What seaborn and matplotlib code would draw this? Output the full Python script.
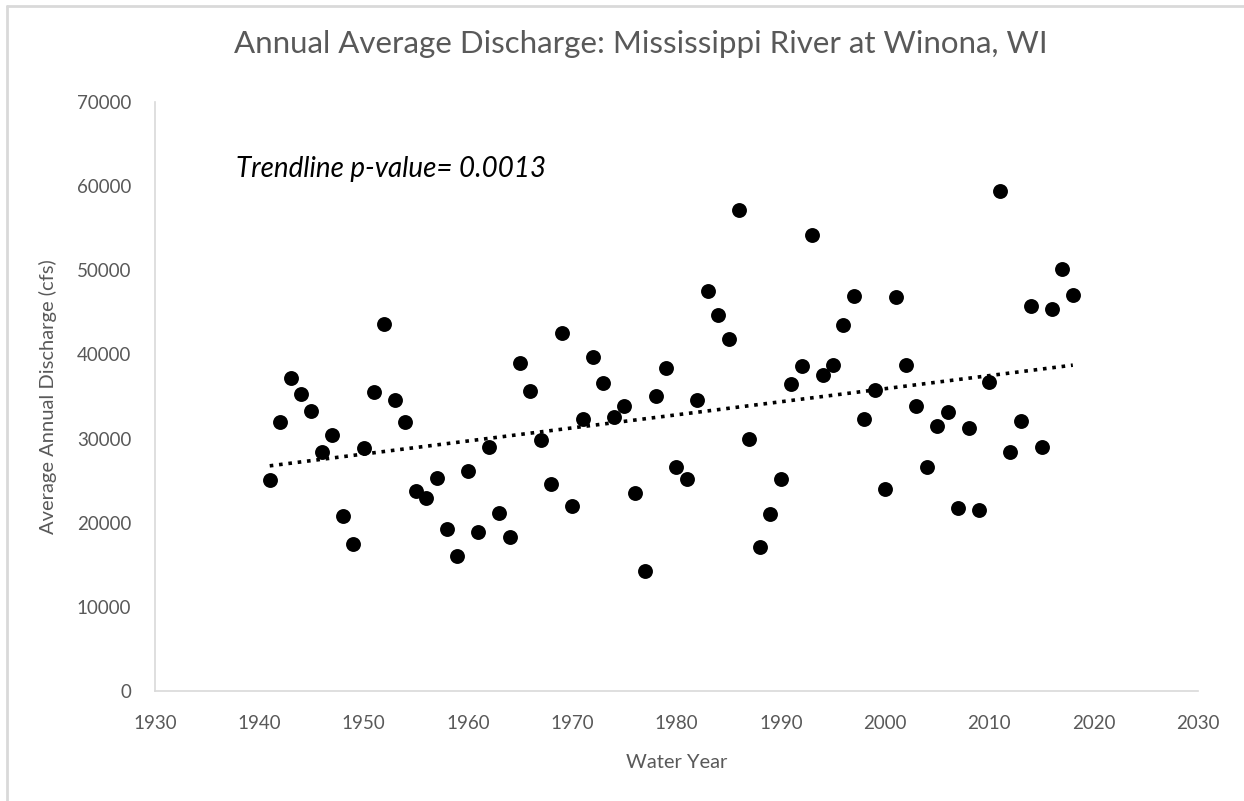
"""Annual average discharge scatter with a dotted linear trendline."""
import matplotlib
matplotlib.use("Agg")
import matplotlib.pyplot as plt
from matplotlib.lines import Line2D
import numpy as np
import pandas as pd
import seaborn as sns

years = list(range(1941, 2019))
discharge = [
    25100, 32000, 37250, 35250, 33300, 28400, 30400, 20800, 17500, 28900,  # 1941-1950
    35550, 43650, 34600, 32000, 23800, 22950, 25350, 19250, 16100, 26200,  # 1951-1960
    18950, 29000, 21200, 18250, 39000, 35700, 29800, 24600, 42550, 21950,  # 1961-1970
    32350, 39700, 36600, 32600, 33850, 23500, 14300, 35050, 38400, 26600,  # 1971-1980
    25200, 34600, 47500, 44650, 41850, 57200, 29900, 17150, 21050, 25200,  # 1981-1990
    36450, 38650, 54200, 37600, 38700, 43550, 46950, 32300, 35750, 24050,  # 1991-2000
    46800, 38700, 33850, 26650, 31450, 33150, 21800, 31200, 21500, 36750,  # 2001-2010
    59450, 28350, 32050, 45800, 29050, 45400, 50100, 47100,                # 2011-2018
]
x_ticks = list(range(1930, 2031, 10))
y_ticks = list(range(0, 70001, 10000))

df = pd.DataFrame({"year": years, "discharge": discharge})

sns.set_theme(style="white")
plt.rcParams["font.family"] = ["Lato", "DejaVu Sans"]
GRAY = "#595959"

fig = plt.figure(figsize=(12.44, 8.01), dpi=100)
ax = fig.add_axes([0.1246, 0.1373, 0.8384, 0.7354])

sns.scatterplot(data=df, x="year", y="discharge", ax=ax, color="black",
                s=115, edgecolor="black", linewidth=0, zorder=3)
sns.regplot(data=df, x="year", y="discharge", ax=ax, scatter=False, ci=None,
            color="black", line_kws={"linestyle": (0, (1, 1.6)), "linewidth": 2.6})

ax.set_xlim(1930, 2030)
ax.set_ylim(0, 70000)
ax.set_xticks(x_ticks)
ax.set_yticks(y_ticks)
ax.tick_params(axis="both", length=0, labelsize=13.5, labelcolor=GRAY)
ax.tick_params(axis="x", pad=17)
ax.tick_params(axis="y", pad=17)
for side in ("top", "right"):
    ax.spines[side].set_visible(False)
for side in ("left", "bottom"):
    ax.spines[side].set_color("#d9d9d9")
    ax.spines[side].set_linewidth(1.2)

ax.set_xlabel("Water Year", fontsize=14.5, color=GRAY, labelpad=16)
ax.set_ylabel("Average Annual Discharge (cfs)", fontsize=14.5, color=GRAY, labelpad=14)
fig.suptitle("Annual Average Discharge: Mississippi River at Winona, WI",
             fontsize=22.5, color=GRAY, x=0.515, y=0.962)
ax.text(1937.8, 62000, "Trendline p-value= 0.0013", fontsize=20, style="italic",
        color="black", va="center")

# outer chart border (top and left edges only)
fig.add_artist(Line2D([0.006, 0.006], [0, 0.9925], transform=fig.transFigure,
                      color="#d9d9d9", linewidth=2))
fig.add_artist(Line2D([0.006, 1], [0.9925, 0.9925], transform=fig.transFigure,
                      color="#d9d9d9", linewidth=2))

fig.savefig("out.png", dpi=100)
plt.close(fig)
